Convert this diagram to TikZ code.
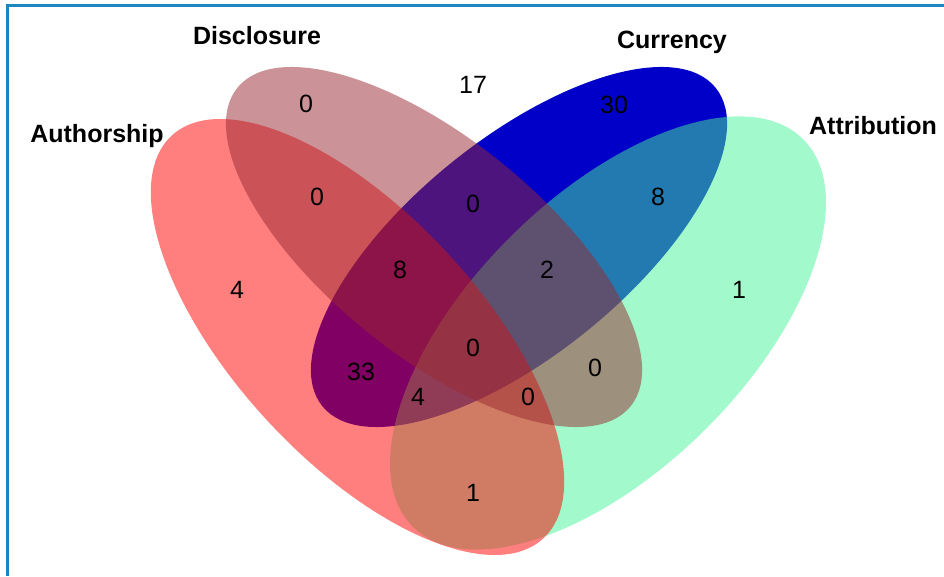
\documentclass[tikz,border=0pt]{standalone}
\usepackage{fontspec}
\setmainfont{Liberation Sans}
\definecolor{bordercol}{RGB}{27,134,192}
\definecolor{ccol}{RGB}{0,0,200}
\definecolor{tcol}{RGB}{71,245,153}
\definecolor{acol}{RGB}{255,0,0}
\definecolor{dcol}{RGB}{153,41,49}
\tikzset{
  num/.style={font=\fontsize{25}{30}\selectfont, inner sep=0pt, text=black},
  setname/.style={font=\fontsize{25}{30}\selectfont\bfseries, inner sep=0pt, anchor=base, text=black},
  setfill/.style={fill=#1, draw=none}
}
\begin{document}
\begin{tikzpicture}[x=1pt, y=1pt]
\useasboundingbox (0,0) rectangle (944,576);
\fill[white] (0,0) rectangle (944,576);
% ellipses (pixel y -> 576 - y)
\fill[setfill=ccol, rotate around={39:(519,329)}] (519,329) ellipse [x radius=253, y radius=108];
\fill[setfill=tcol, fill opacity=0.5, rotate around={44.7:(608,243)}] (608,243) ellipse [x radius=275, y radius=137];
\fill[setfill=acol, fill opacity=0.5, rotate around={-47.3:(357.5,239)}] (357.5,239) ellipse [x radius=274, y radius=123];
\fill[setfill=dcol, fill opacity=0.5, rotate around={-39:(434,329)}] (434,329) ellipse [x radius=253, y radius=108];
% border
\draw[bordercol, line width=3pt] (7.8,0) -- (7.8,570.2) -- (944,570.2);
% set names
\node[setname] (nA) at (97,433) {Authorship};
\node[setname] (nD) at (257,531) {Disclosure};
\node[setname] (nC) at (672,527) {Currency};
\node[setname] (nT) at (873,441) {Attribution};
% counts
\node[num] (d) at (306,472) {0};
\node[num] (none) at (473,491) {17};
\node[num] (c) at (614,471) {30};
\node[num] (a) at (237,286) {4};
\node[num] (t) at (739,286) {1};
\node[num] (ad) at (317,379) {0};
\node[num] (dc) at (473,372) {0};
\node[num] (ct) at (658,379) {8};
\node[num] (adc) at (400,306) {8};
\node[num] (dct) at (547,306) {2};
\node[num] (adct) at (473,228) {0};
\node[num] (ac) at (361,204) {33};
\node[num] (dt) at (595,208) {0};
\node[num] (act) at (418,179) {4};
\node[num] (adt) at (528,179) {0};
\node[num] (at) at (473,83) {1};
\end{tikzpicture}
\end{document}
